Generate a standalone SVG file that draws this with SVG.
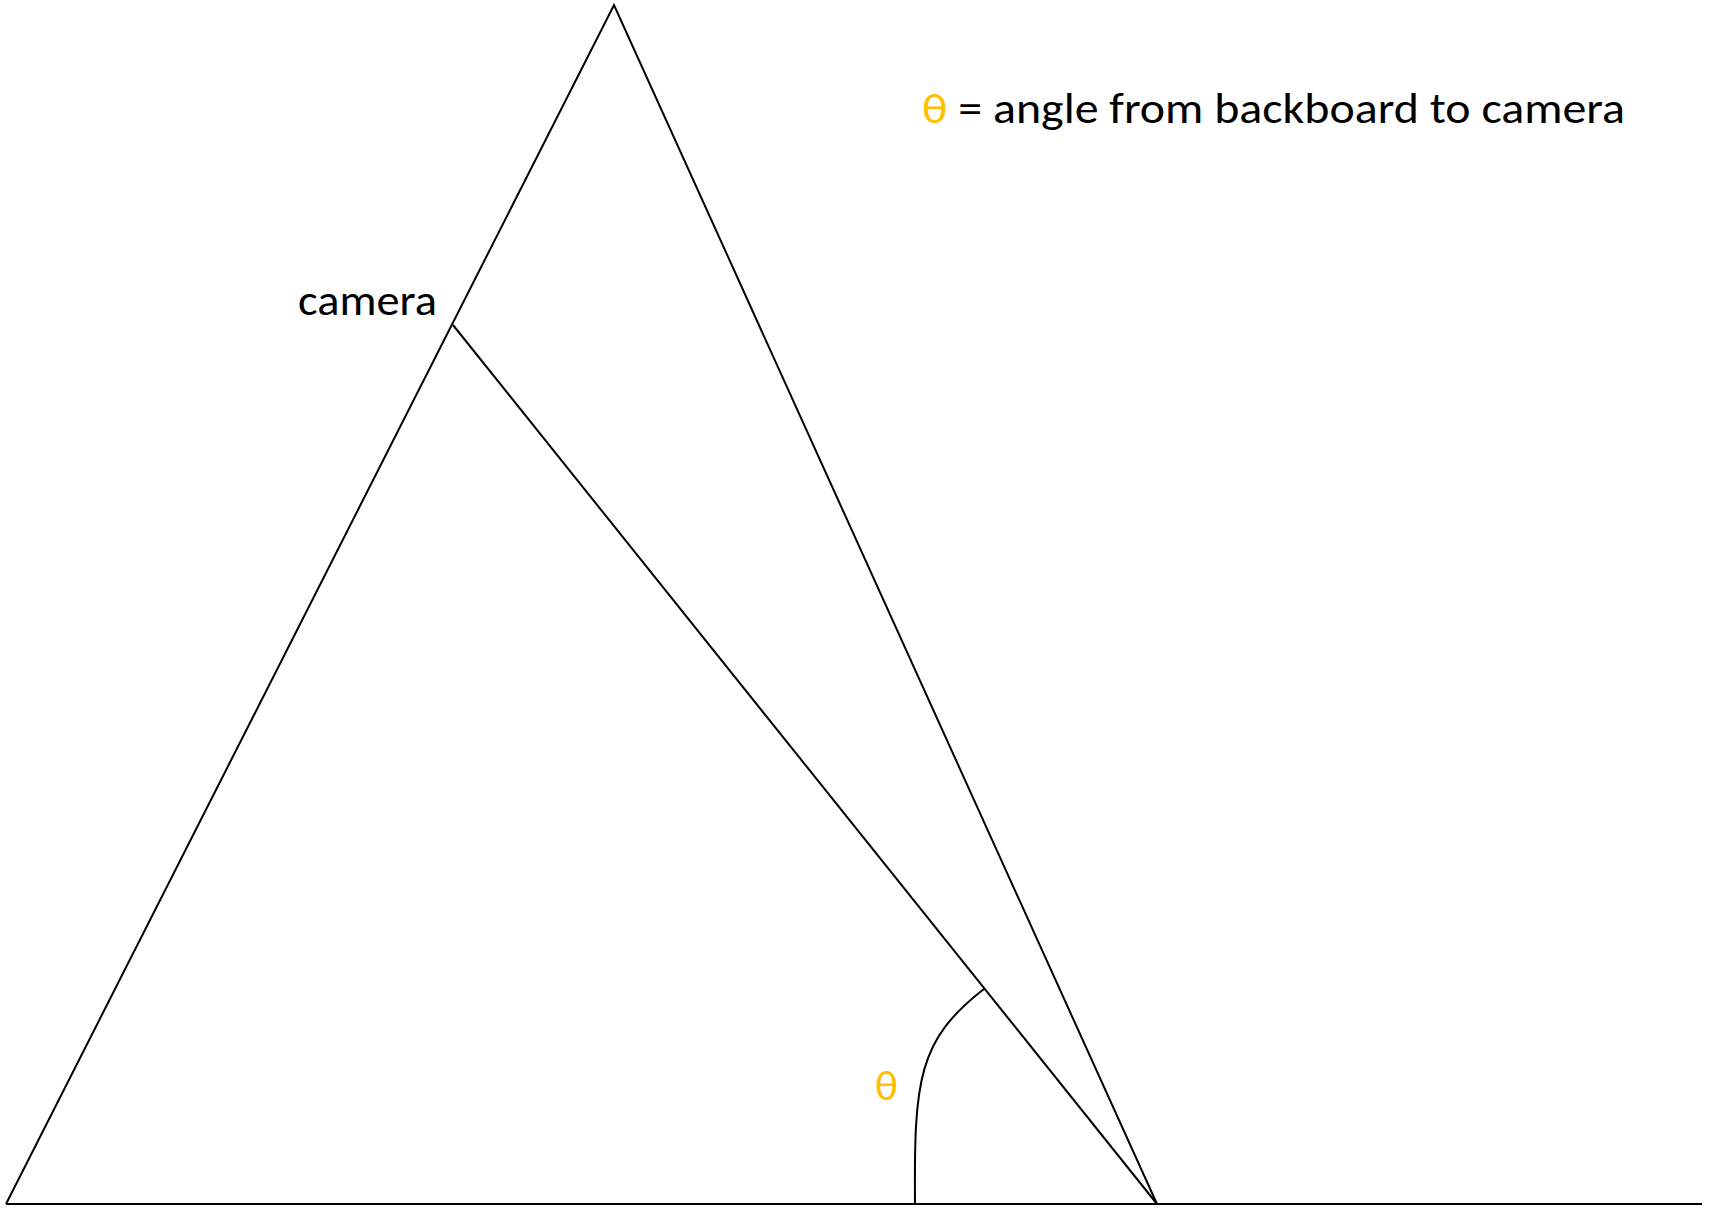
<svg xmlns="http://www.w3.org/2000/svg" width="1715" height="1210" viewBox="0 0 1715 1210">
<style>
.ln{stroke:#000;stroke-width:2;fill:none;stroke-linejoin:miter}
.t{font-family:Calibri,Carlito,"Liberation Sans",sans-serif;font-size:43px;fill:#000}
.th{fill:#FFC000}
</style>
<rect width="1715" height="1210" fill="#fff"/>
<g id="shapes">
<polyline class="ln" points="6,1204 614,5 1157,1204"/>
<line class="ln" x1="6" y1="1204" x2="1702" y2="1204" stroke-width="2.5"/>
<line class="ln" x1="453" y1="325" x2="1157" y2="1204"/>
<path class="ln" d="M915,1204 C914,1080 918,1040 984,989"/>
</g>
<g id="labels">
<text class="t" x="298" y="315" textLength="139" lengthAdjust="spacingAndGlyphs">camera</text>
<text class="t th" x="875" y="1100">θ</text>
<text class="t" x="922" y="123" textLength="703" lengthAdjust="spacingAndGlyphs"><tspan class="th">θ</tspan> = angle from backboard to camera</text>
</g>
</svg>
